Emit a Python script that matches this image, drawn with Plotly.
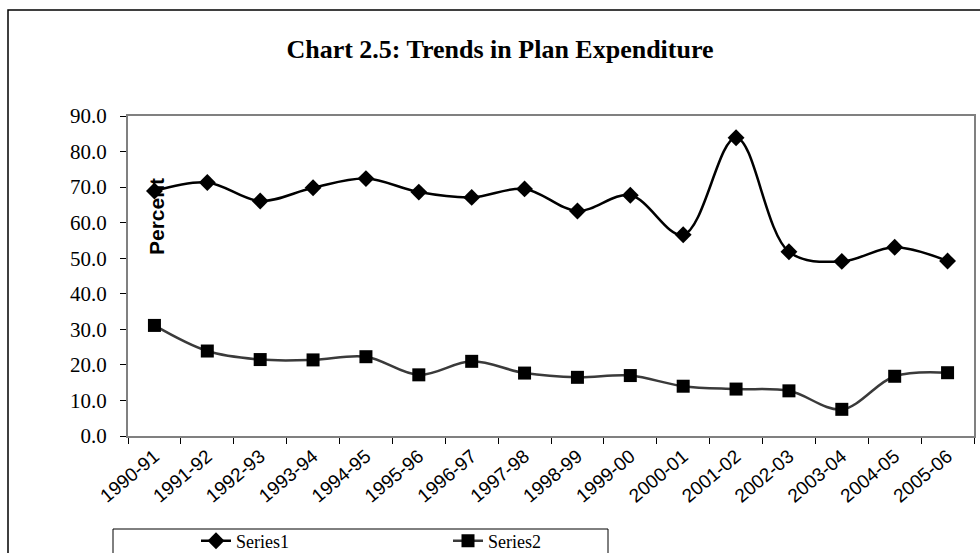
import plotly.graph_objects as go

years = ["1990-91", "1991-92", "1992-93", "1993-94", "1994-95", "1995-96",
         "1996-97", "1997-98", "1998-99", "1999-00", "2000-01", "2001-02",
         "2002-03", "2003-04", "2004-05", "2005-06"]
series1 = [68.9, 71.3, 66.1, 69.8, 72.4, 68.6, 67.1, 69.5,
           63.3, 67.7, 56.6, 83.9, 51.8, 49.1, 53.1, 49.2]
series2 = [31.1, 23.9, 21.5, 21.4, 22.3, 17.2, 21.0, 17.7,
           16.5, 17.0, 14.0, 13.2, 12.7, 7.5, 16.8, 17.8]
y_ticks = [0, 10, 20, 30, 40, 50, 60, 70, 80, 90]

W, H = 980, 553
L, R, T, B = 128, 6, 116, 117
pw, ph = W - L - R, H - T - B


def px(x):
    return (x - L) / pw


def py(y):
    return (H - B - y) / ph


fig = go.Figure()
fig.add_trace(go.Scatter(
    x=years, y=series1, name="Series1", mode="lines+markers",
    line=dict(color="#000000", width=2.5, shape="spline", smoothing=1),
    marker=dict(symbol="diamond", size=13, color="#000000"),
))
fig.add_trace(go.Scatter(
    x=years, y=series2, name="Series2", mode="lines+markers",
    line=dict(color="#3a3a3a", width=2.5, shape="spline", smoothing=1),
    marker=dict(symbol="square", size=13, color="#000000"),
))

# outer chart border and legend frame
fig.add_shape(type="rect", xref="paper", yref="paper",
              x0=px(8), x1=px(990), y0=py(565), y1=py(10),
              line=dict(color="#000000", width=1.5), layer="below")
fig.add_shape(type="rect", xref="paper", yref="paper",
              x0=px(113), x1=px(608), y0=py(565), y1=py(529),
              line=dict(color="#000000", width=1), layer="below")

fig.add_annotation(
    text="<b>Percent</b>", xref="paper", yref="paper",
    x=px(156), y=py(217), xanchor="center", yanchor="middle",
    showarrow=False, textangle=-90,
    font=dict(family="Liberation Sans, Arial", size=21, color="#000000"),
)

fig.update_layout(
    width=W, height=H,
    margin=dict(l=L, r=R, t=T, b=B, autoexpand=False),
    paper_bgcolor="#ffffff", plot_bgcolor="#ffffff",
    title=dict(
        text="<b>Chart 2.5: Trends in Plan Expenditure</b>",
        x=500 / W, xanchor="center", y=1 - 49 / H, yanchor="middle",
        font=dict(family="Liberation Serif, Times New Roman", size=26, color="#000000"),
    ),
    showlegend=True,
    legend=dict(
        orientation="h", x=px(196), xanchor="left", y=py(541), yanchor="middle",
        bgcolor="rgba(0,0,0,0)", entrywidth=207, entrywidthmode="pixels",
        font=dict(family="Liberation Serif, Times New Roman", size=18, color="#000000"),
    ),
    xaxis=dict(
        type="category", tickson="boundaries", range=[-0.5, 15.5],
        automargin=False,
        showline=True, linecolor="#808080", linewidth=2, mirror=True,
        ticks="outside", ticklen=6, tickcolor="#000000", tickwidth=1,
        tickangle=-40, showgrid=False, zeroline=False,
        tickfont=dict(family="Liberation Sans, Arial", size=19, color="#000000"),
    ),
    yaxis=dict(
        range=[0, 90], tickvals=y_ticks, tickformat=".1f",
        automargin=False,
        showline=True, linecolor="#808080", linewidth=2, mirror=True,
        ticks="outside", ticklen=6, tickcolor="#000000", tickwidth=1,
        showgrid=False, zeroline=False, ticklabelstandoff=9,
        tickfont=dict(family="Liberation Serif, Times New Roman", size=21, color="#000000"),
    ),
)

fig.write_html("out.html")
